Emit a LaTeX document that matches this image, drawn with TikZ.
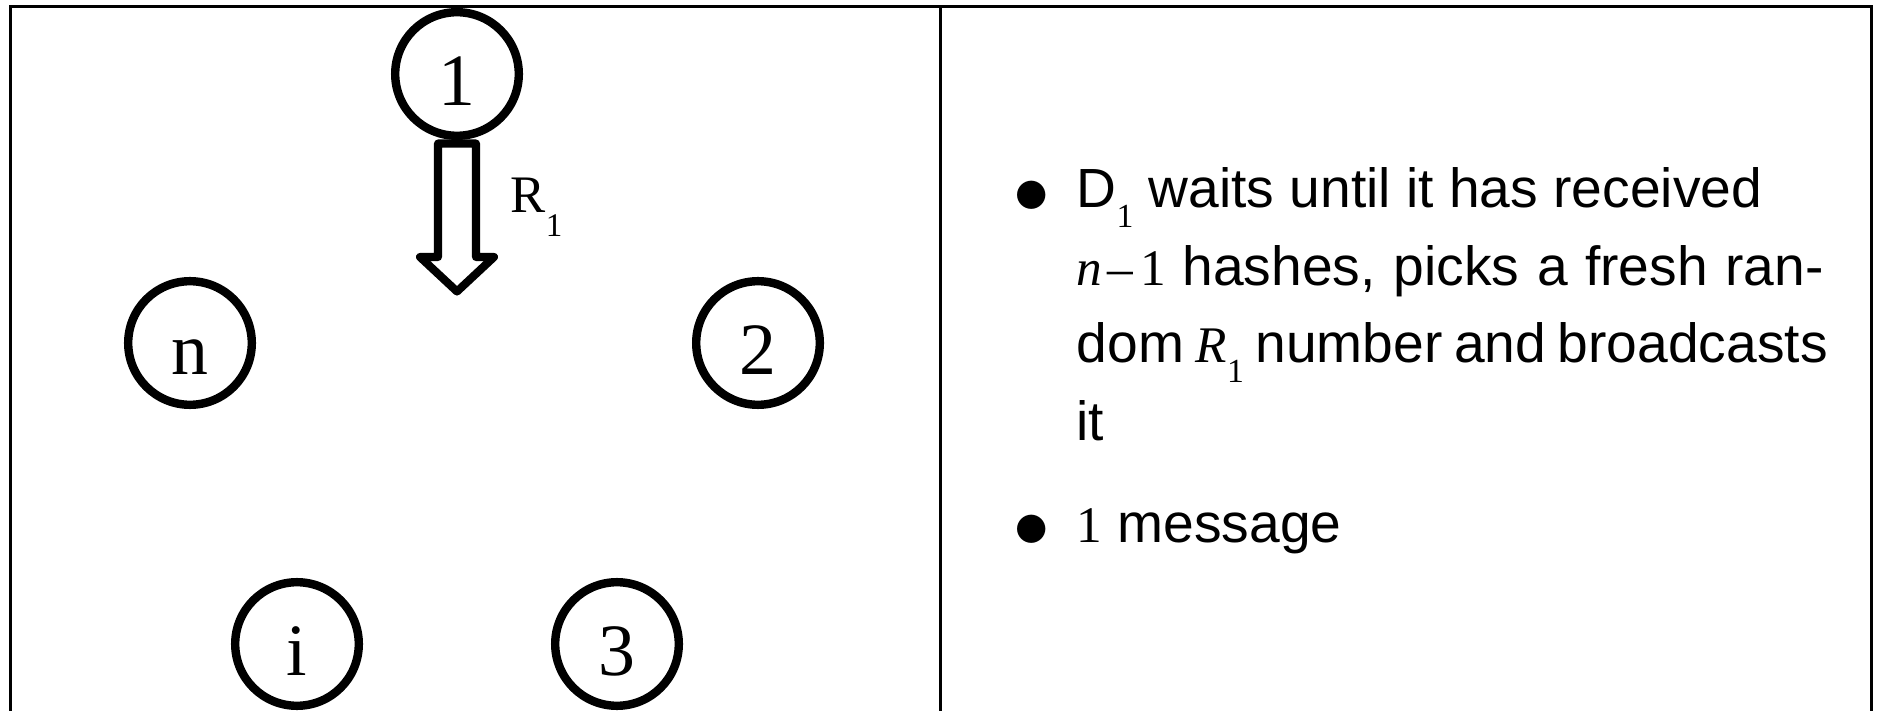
\documentclass[tikz,border=0pt]{standalone}
\usepackage{fontspec}
\setmainfont{Liberation Sans}
\newfontfamily\timesfont{Liberation Serif}
\usetikzlibrary{calc}

% math-like pieces set in a Times face
\newcommand{\mvar}[1]{{\timesfont\fontsize{14.6}{14.6}\selectfont\itshape #1}}
\newcommand{\mnum}[1]{{\timesfont\fontsize{14.6}{14.6}\selectfont #1}}
\newcommand{\msub}[1]{\raisebox{-0.36em}{\fontsize{9.6}{9.6}\selectfont\timesfont #1}}

\begin{document}
\begin{tikzpicture}[
    peer/.style={circle, draw, line width=2.4pt, minimum size=1.236cm, inner sep=0pt,
        font=\timesfont\fontsize{21}{21}\selectfont, text height=0.63cm, text depth=0pt},
    frame/.style={line width=0.85pt},
    blockarrow/.style={line width=2.3pt, line join=round, fill=white},
    bodytext/.style={anchor=base west, inner sep=0pt, font=\fontsize{15.7}{15.7}\selectfont},
    bulletmark/.style={inner sep=0pt, font=\fontsize{22}{22}\selectfont}
]

    % Parameters
    \def\textX{10.76}
    \def\bulletX{10.32}

    \useasboundingbox (0,0) rectangle (18.77,7.10);

    % 1. Table frame (open at the bottom)
    \draw[frame] (0.103,-0.1) -- (0.103,7.03) -- (18.715,7.03) -- (18.715,-0.1);
    \draw[frame] (9.405,7.03) -- (9.405,-0.1);

    % 2. Ring of participants
    \node[peer] (n1) at (4.57,6.36) {1};
    \node[peer] (nn) at (1.90,3.67) {n};
    \node[peer] (n2) at (7.58,3.67) {2};
    \node[peer] (ni) at (2.97,0.66) {i};
    \node[peer] (n3) at (6.17,0.66) {3};

    % 3. Broadcast of R1 (hollow block arrow)
    \begin{scope}[shift={(n1.south)}]
        \draw[blockarrow] (-0.19,-0.035) -- (-0.19,-1.17) -- (-0.37,-1.17) -- (0,-1.515)
            -- (0.37,-1.17) -- (0.19,-1.17) -- (0.19,-0.035) -- cycle;
    \end{scope}
    \node[anchor=base west, inner sep=0pt, font=\timesfont\fontsize{15}{15}\selectfont]
        (rlabel) at (5.10,4.97) {R\raisebox{-0.44em}{\fontsize{9.4}{9.4}\selectfont 1}};

    % 4. Description (lines 2 and 3 justified)
    \node[bulletmark] (b1) at (\bulletX,5.13) {$\bullet$};
    \node[bodytext] (l1) at (\textX,5.02) {D\msub{1} waits until it has received};
    \node[bodytext] (l2) at (\textX,4.24)
        {\makebox[7.47cm][s]{\mvar{n}\hspace{0.1em}\mnum{–}\hspace{0.12em}\mnum{1}\hspace{0.3em}hashes, picks a fresh ran-}};
    \node[bodytext] (l3) at (\textX,3.47) {\makebox[7.51cm][s]{dom \mvar{R}\msub{1} number and broadcasts}};
    \node[bodytext] (l4) at (\textX,2.70) {it};

    \node[bulletmark] (b2) at (\bulletX,1.79) {$\bullet$};
    \node[bodytext] (l5) at (\textX,1.68) {\mnum{1} message};

\end{tikzpicture}
\end{document}
